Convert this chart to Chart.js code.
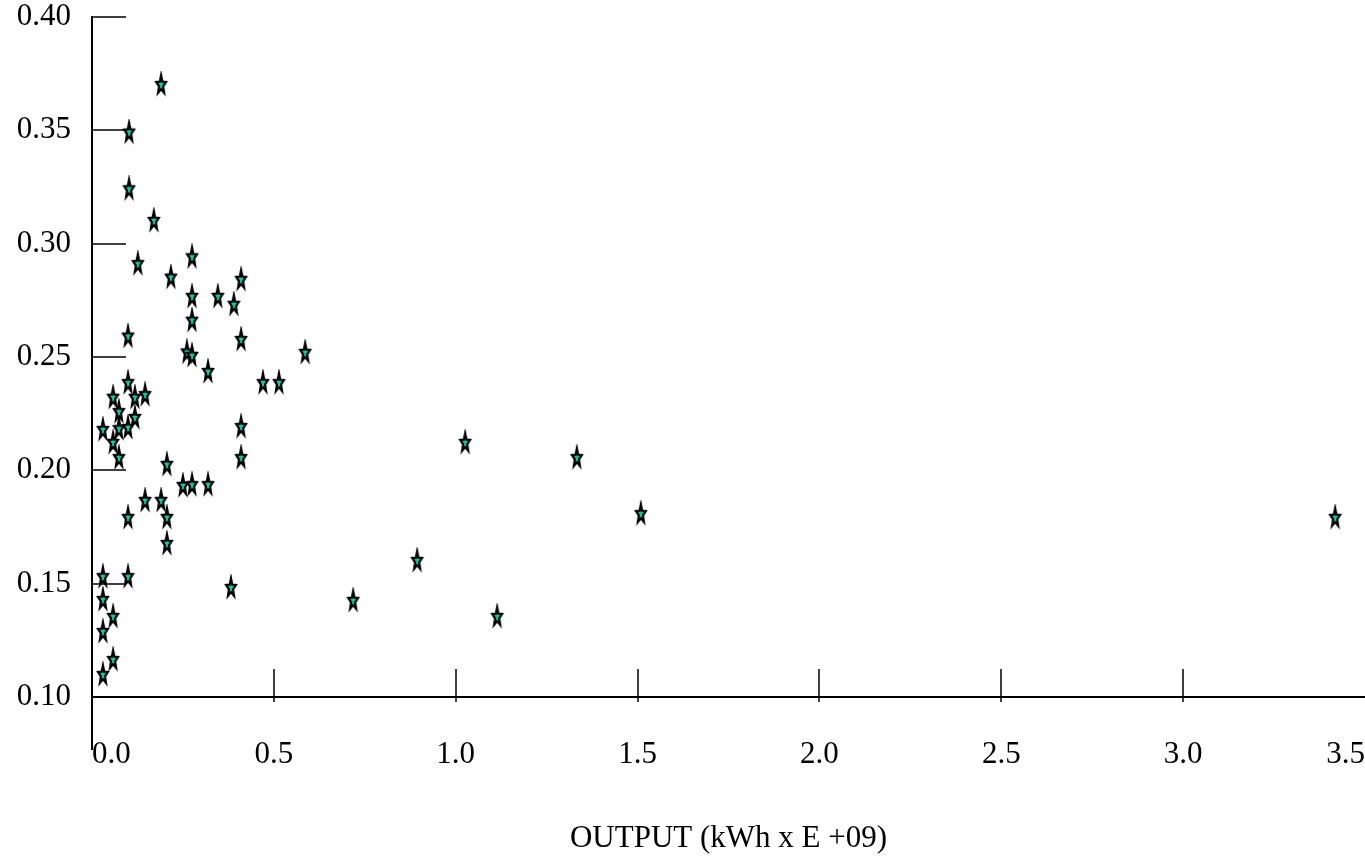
<!DOCTYPE html>
<html>
<head>
<meta charset="utf-8">
<script src="https://cdn.jsdelivr.net/npm/chart.js@4.4.1/dist/chart.umd.min.js"></script>
<style>
html,body{margin:0;padding:0;background:#fff;overflow:hidden}
canvas{display:block}
</style>
</head>
<body>
<canvas id="c" width="1365" height="860"></canvas>
<script>
// ---- data ----
const outputX = [
  0.190, 0.102, 0.102, 0.170, 0.126, 0.275, 0.217, 0.410, 0.275, 0.346,
  0.390, 0.275, 0.099, 0.410, 0.261, 0.275, 0.586, 0.319, 0.099, 0.470,
  0.514, 0.058, 0.118, 0.146, 0.074, 0.030, 0.074, 0.099, 0.118, 0.410,
  0.058, 1.026, 0.074, 0.410, 1.333, 0.206, 0.250, 0.275, 0.319, 0.146,
  0.190, 0.099, 0.206, 1.509, 3.418, 0.206, 0.894, 0.030, 0.099, 0.382,
  0.030, 0.718, 0.058, 1.114, 0.030, 0.058, 0.030
];
const ratioY = [
  0.370, 0.349, 0.324, 0.310, 0.291, 0.294, 0.285, 0.284, 0.2765, 0.2765,
  0.273, 0.266, 0.259, 0.2575, 0.252, 0.2505, 0.2518, 0.2434, 0.2385, 0.2385,
  0.2385, 0.232, 0.232, 0.2332, 0.2257, 0.2178, 0.2182, 0.2187, 0.2231, 0.2191,
  0.2121, 0.2121, 0.2054, 0.2054, 0.2054, 0.2024, 0.1931, 0.1935, 0.1935, 0.1865,
  0.1865, 0.179, 0.179, 0.1807, 0.179, 0.1675, 0.160, 0.1529, 0.1529, 0.1481,
  0.1428, 0.1424, 0.1353, 0.1353, 0.1287, 0.1163, 0.1097
];
const xTickValues = [0, 0.5, 1.0, 1.5, 2.0, 2.5, 3.0, 3.5];
const xTickLabels = ['0.0', '0.5', '1.0', '1.5', '2.0', '2.5', '3.0', '3.5'];
const yTickValues = [0.10, 0.15, 0.20, 0.25, 0.30, 0.35, 0.40];
const yTickLabels = ['0.10', '0.15', '0.20', '0.25', '0.30', '0.35', '0.40'];
const xTitle = 'OUTPUT (kWh x E +09)';

// ---- styling ----
const FONT = '"Liberation Serif", "Times New Roman", Times, serif';
const STAR_FILL = '#19c9a3';

function makeStar() {
  const c = document.createElement('canvas');
  c.width = 16; c.height = 28;
  const g = c.getContext('2d');
  const cx = 8, cy = 14, R = 5.2, r = 2.2, sy = 1.9;
  g.beginPath();
  for (let i = 0; i < 10; i++) {
    const a = -Math.PI / 2 + i * Math.PI / 5;
    const rad = i % 2 === 0 ? R : r;
    const x = cx + rad * Math.cos(a), y = cy + rad * Math.sin(a) * sy;
    if (i === 0) g.moveTo(x, y); else g.lineTo(x, y);
  }
  g.closePath();
  g.fillStyle = STAR_FILL;
  g.fill();
  g.lineWidth = 2.2;
  g.strokeStyle = '#000';
  g.stroke();
  return c;
}
const starImg = makeStar();

const axisDecor = {
  id: 'axisDecor',
  beforeDatasetsDraw(chart) {
    const {ctx, scales: {x, y}, chartArea: a} = chart;
    ctx.save();
    ctx.strokeStyle = '#000';
    ctx.lineWidth = 1.5;
    y.ticks.forEach(t => {
      const py = Math.round(y.getPixelForValue(t.value));
      ctx.beginPath();
      ctx.moveTo(a.left, py);
      ctx.lineTo(a.left + 34, py);
      ctx.stroke();
    });
    x.ticks.forEach(t => {
      if (t.value <= x.min || t.value >= x.max) return;
      const px = Math.round(x.getPixelForValue(t.value));
      ctx.beginPath();
      ctx.moveTo(px, a.bottom - 28);
      ctx.lineTo(px, a.bottom + 5);
      ctx.stroke();
    });
    // vertical axis continues a little below the horizontal axis
    ctx.lineWidth = 2;
    ctx.beginPath();
    ctx.moveTo(a.left, a.bottom);
    ctx.lineTo(a.left, a.bottom + 53);
    ctx.stroke();
    ctx.restore();
  }
};

function zeroPad(s) { s.paddingTop = 0; s.paddingBottom = 0; s.paddingLeft = 0; s.paddingRight = 0; }

new Chart(document.getElementById('c'), {
  type: 'scatter',
  data: {
    datasets: [{
      data: outputX.map((v, i) => ({x: v, y: ratioY[i]})),
      pointStyle: starImg,
      pointRadius: 7,
      clip: false
    }]
  },
  options: {
    responsive: false,
    animation: false,
    devicePixelRatio: 1,
    layout: {autoPadding: false, padding: {top: 17, left: 0, right: 0, bottom: 0}},
    plugins: {legend: {display: false}, tooltip: {enabled: false}},
    scales: {
      x: {
        type: 'linear',
        position: 'bottom',
        min: 0,
        max: 3.5,
        afterBuildTicks: s => { s.ticks = xTickValues.map(v => ({value: v})); },
        afterFit: s => { s.height = 163; zeroPad(s); },
        grid: {display: false, drawTicks: false},
        border: {display: true, color: '#000', width: 2},
        ticks: {
          autoSkip: false, maxRotation: 0, minRotation: 0, align: 'inner',
          padding: 42, color: '#000',
          font: {family: FONT, size: 31, lineHeight: 1},
          callback: (v, i) => xTickLabels[i]
        },
        title: {
          display: true, text: xTitle, color: '#000',
          font: {family: FONT, size: 31, lineHeight: 1.2},
          padding: {top: 0, bottom: 3}
        }
      },
      y: {
        type: 'linear',
        position: 'left',
        min: 0.10,
        max: 0.40,
        afterBuildTicks: s => { s.ticks = yTickValues.map(v => ({value: v})); },
        afterFit: s => { s.width = 92; zeroPad(s); },
        grid: {display: false, drawTicks: false},
        border: {display: true, color: '#000', width: 2},
        ticks: {
          autoSkip: false, padding: 21, color: '#000',
          font: {family: FONT, size: 31, lineHeight: 1},
          callback: (v, i) => yTickLabels[i]
        }
      }
    }
  },
  plugins: [axisDecor]
});
</script>
</body>
</html>
